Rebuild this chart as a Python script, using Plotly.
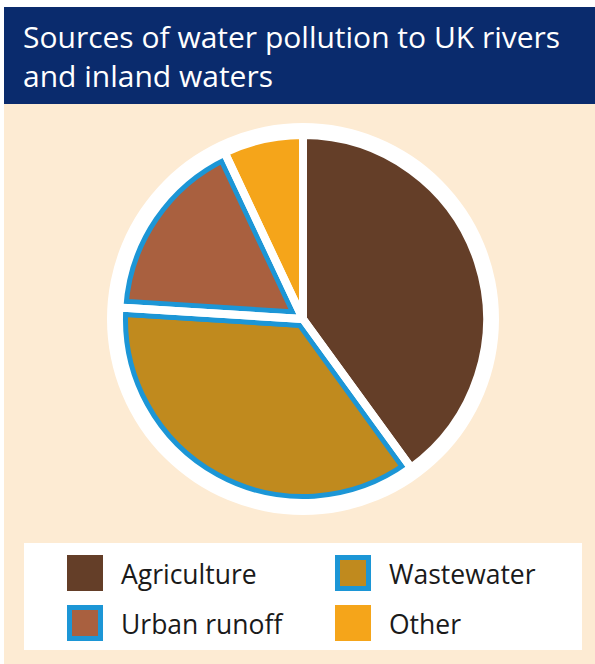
import plotly.graph_objects as go

# ---- data ----
categories = ["Agriculture", "Wastewater", "Urban runoff", "Other"]
values = [40, 36, 17, 7]
fill_colors = ["#643E28", "#C08A1E", "#A9603F", "#F5A51A"]
has_blue_border = [False, True, True, False]
title_lines = ["Sources of water pollution to UK rivers", "and inland waters"]

# ---- style ----
W, H = 595, 664
BLUE = "#1C96D6"
BEIGE = "#FDEBD3"
NAVY = "#0A2B6D"
FONT = "Open Sans"

def px(x):
    return x / W

def py(y):
    return 1 - y / H

# pie geometry (pixels)
cx, cy = 303, 319
R = 184          # slice outline radius
RING = 196       # white ring outer radius
GAP = 8          # white gap width
BW = 5           # blue border width

def dom(r):
    return dict(x=[px(cx - r), px(cx + r)], y=[py(cy + r), py(cy - r)])

fig = go.Figure()

common = dict(labels=categories, values=values, sort=False, direction="clockwise",
              rotation=0, textinfo="none", hoverinfo="label+percent", showlegend=False)

# 1: fills + blue strokes for bordered slices
fig.add_trace(go.Pie(
    **common, domain=dom(R),
    marker=dict(colors=fill_colors,
                line=dict(color=[BLUE if b else "rgba(0,0,0,0)" for b in has_blue_border],
                          width=[GAP + 2 * BW if b else 0 for b in has_blue_border]))))
# 2: repaint non-bordered slices to hide blue overflow
fig.add_trace(go.Pie(
    **common, domain=dom(R),
    marker=dict(colors=[("rgba(0,0,0,0)" if b else c) for c, b in zip(fill_colors, has_blue_border)],
                line=dict(width=0))))
# 3: white gaps
fig.add_trace(go.Pie(
    **common, domain=dom(R),
    marker=dict(colors=["rgba(0,0,0,0)"] * len(values), line=dict(color="white", width=GAP))))
# 4: white ring
fig.add_trace(go.Pie(
    labels=["ring"], values=[1], hole=(R) / RING, domain=dom(RING), sort=False,
    textinfo="none", hoverinfo="skip", showlegend=False,
    marker=dict(colors=["white"], line=dict(width=0))))

shapes = []
# backgrounds
shapes.append(dict(type="rect", xref="paper", yref="paper", layer="below",
                   x0=px(4), x1=1, y0=0, y1=py(7), fillcolor=BEIGE, line=dict(width=0)))
shapes.append(dict(type="rect", xref="paper", yref="paper", layer="below",
                   x0=px(4), x1=1, y0=py(104), y1=py(7), fillcolor=NAVY, line=dict(width=0)))
# legend box
shapes.append(dict(type="rect", xref="paper", yref="paper", layer="below",
                   x0=px(24), x1=px(582), y0=py(650), y1=py(543), fillcolor="white", line=dict(width=0)))

annotations = [dict(text="<br>".join(title_lines), xref="paper", yref="paper", x=px(21), y=py(56),
                    xanchor="left", yanchor="middle", align="left", showarrow=False,
                    font=dict(family=FONT, size=30, color="white"))]

leg_cols = [67, 335]
leg_rows = [555, 605]
SQ = 36
for i, (cat, col, b) in enumerate(zip(categories, fill_colors, has_blue_border)):
    x0 = leg_cols[i % 2]
    y0 = leg_rows[i // 2]
    if b:
        shapes.append(dict(type="rect", xref="paper", yref="paper",
                           x0=px(x0 + BW / 2), x1=px(x0 + SQ - BW / 2),
                           y0=py(y0 + SQ - BW / 2), y1=py(y0 + BW / 2),
                           fillcolor=col, line=dict(color=BLUE, width=BW)))
    else:
        shapes.append(dict(type="rect", xref="paper", yref="paper",
                           x0=px(x0), x1=px(x0 + SQ), y0=py(y0 + SQ), y1=py(y0),
                           fillcolor=col, line=dict(width=0)))
    annotations.append(dict(text=cat, xref="paper", yref="paper",
                            x=px(x0 + 52), y=py(y0 + SQ / 2 + 1), xanchor="left", yanchor="middle",
                            showarrow=False, font=dict(family=FONT, size=26.5, color="#1A1A1A")))

fig.update_layout(width=W, height=H, margin=dict(l=0, r=0, t=0, b=0),
                  paper_bgcolor="white", plot_bgcolor="white",
                  shapes=shapes, annotations=annotations)

fig.write_html("out.html")
